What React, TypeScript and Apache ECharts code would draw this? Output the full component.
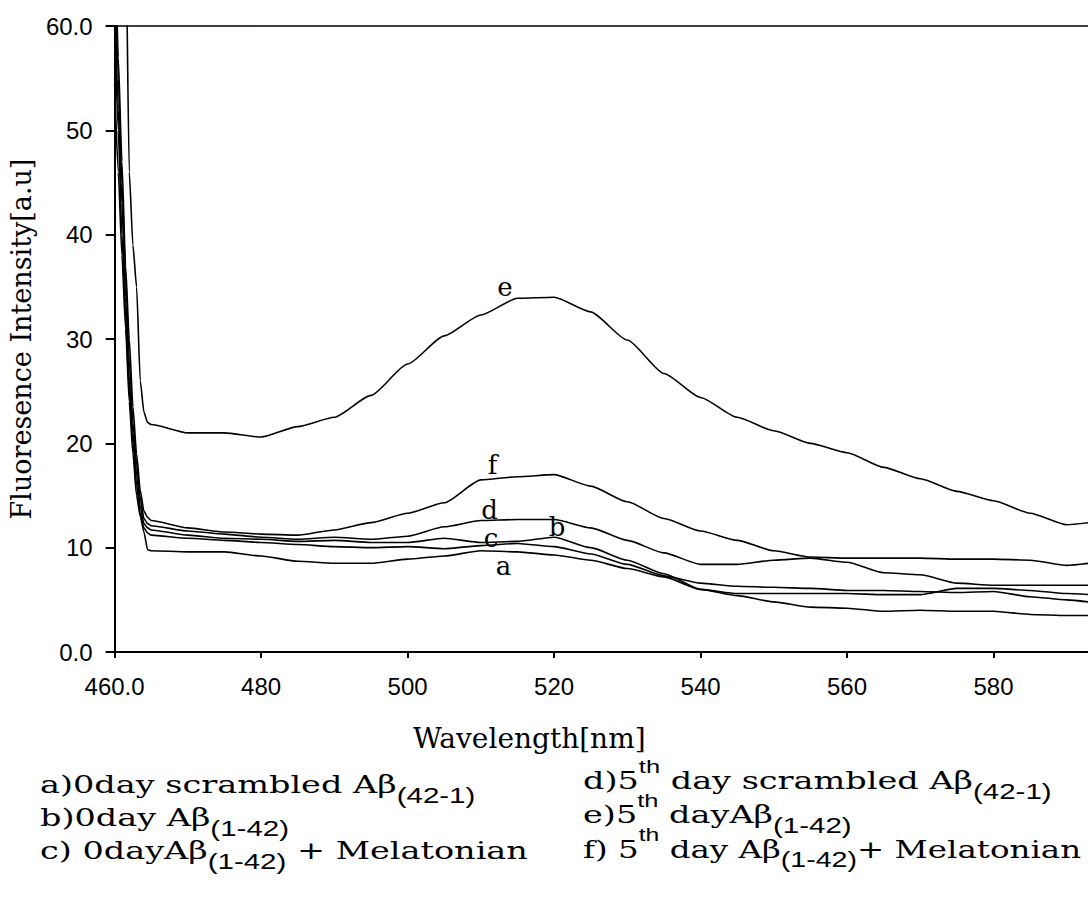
import React, { useEffect, useRef } from "react";
import * as echarts from "echarts";

const wavelength = [460, 460.5, 461, 461.5, 462, 462.5, 463, 463.5, 464, 464.5, 465, 470, 475, 480, 485, 490, 495, 500, 505, 510, 515, 520, 525, 530, 535, 540, 545, 550, 555, 560, 565, 570, 575, 580, 585, 590, 593];

const curveA = [54.5, 46, 38, 31, 24, 19, 15, 13, 11.5, 9.8, 9.7, 9.6, 9.6, 9.2, 8.7, 8.5, 8.5, 8.9, 9.2, 9.7, 9.6, 9.3, 8.8, 8.0, 7.2, 6.0, 5.4, 4.8, 4.3, 4.2, 3.9, 4.0, 3.9, 3.9, 3.6, 3.5, 3.5];
const curveB = [64, 52, 43, 34, 26, 21, 17, 14, 12.3, 11.9, 11.7, 11.2, 10.9, 10.8, 10.6, 10.7, 10.5, 10.5, 10.9, 10.5, 10.6, 11.0, 10.0, 8.8, 7.5, 6.0, 5.6, 5.6, 5.6, 5.6, 5.5, 5.5, 6.1, 6.1, 5.9, 5.6, 5.5];
const curveC = [60, 50, 40, 32, 25, 20, 16, 13.3, 11.9, 11.4, 11.2, 10.9, 10.7, 10.5, 10.3, 10.1, 10.0, 10.1, 9.9, 10.2, 10.4, 10.1, 9.4, 8.4, 7.3, 6.6, 6.3, 6.2, 6.1, 5.9, 5.9, 5.8, 5.7, 5.8, 5.3, 5.0, 4.8];
const curveD = [68, 55, 45, 36, 28, 22, 18, 14.8, 12.8, 12.3, 12.1, 11.6, 11.3, 11.0, 10.8, 11.0, 10.8, 11.1, 12.0, 12.6, 12.7, 12.7, 11.9, 10.7, 9.5, 8.4, 8.4, 8.8, 9.0, 8.6, 7.6, 7.4, 6.6, 6.4, 6.4, 6.4, 6.4];
const curveE = [85, 85, 85, 70, 46, 39, 35, 26, 23, 22, 21.8, 21.0, 21.0, 20.6, 21.6, 22.5, 24.6, 27.6, 30.3, 32.3, 33.9, 34.0, 32.6, 29.9, 26.7, 24.4, 22.5, 21.2, 20.0, 19.1, 17.7, 16.6, 15.4, 14.5, 13.3, 12.2, 12.4];
const curveF = [72, 57, 47, 37, 30, 23.5, 19, 15.5, 13.5, 12.9, 12.6, 11.9, 11.5, 11.3, 11.2, 11.7, 12.4, 13.3, 14.3, 16.5, 16.8, 17.0, 15.9, 14.4, 12.8, 11.6, 10.7, 9.7, 9.1, 9.0, 9.0, 9.0, 8.9, 8.9, 8.8, 8.3, 8.5];

const seriesNames = ["a", "b", "c", "d", "e", "f"];
const seriesValues = [curveA, curveB, curveC, curveD, curveE, curveF];
// curve letter labels, in data coordinates (wavelength, intensity)
const labelX = [513.1, 520.4, 511.4, 511.2, 513.3, 511.6];
const labelY = [8.2, 12.0, 10.9, 13.6, 35.0, 17.9];

const xMin = 460;
const xMax = 592.9;
const xStep = 20;
const yMin = 0;
const yMax = 60;
const yStep = 10;

const xTitle = "Wavelength[nm]";
const yTitle = "Fluoresence Intensity[a.u]";

const legendLeft = [
  "{m|a)0day scrambled Aβ}{s|(42-1)}",
  "{m|b)0day Aβ}{s|(1-42)}",
  "{m|c) 0dayAβ}{s|(1-42)}{m| + Melatonian}",
];
const legendRight = [
  "{m|d)5}{p|th}{m| day scrambled Aβ}{s|(42-1)}",
  "{m|e)5}{p|th}{m| dayAβ}{s|(1-42)}",
  "{m|f) 5}{p|th}{m| day Aβ}{s|(1-42)}{m|+ Melatonian}",
];

const SERIF = "'DejaVu Serif', serif";
const SANS = "'Liberation Sans', Arial, sans-serif";

export default function App() {
  const ref = useRef<HTMLDivElement>(null);

  useEffect(() => {
    if (!ref.current) return;
    const chart = echarts.init(ref.current, undefined, { renderer: "svg" });

    const rich = {
      m: { fontFamily: SERIF, fontSize: 25, lineHeight: 44, color: "#000" },
      s: { fontFamily: SANS, fontSize: 22, height: 24, lineHeight: 44, verticalAlign: "bottom", color: "#000" },
      p: { fontFamily: SANS, fontSize: 19, height: 16, lineHeight: 44, verticalAlign: "top", color: "#000" },
    };

    const legendGraphics: any[] = [];
    legendLeft.forEach((t, i) => {
      legendGraphics.push({
        type: "text",
        x: 40,
        y: 763 + i * 33,
        scaleX: 1.34,
        silent: true,
        style: { text: t, rich, align: "left", verticalAlign: "top", fill: "#000" },
      });
    });
    legendRight.forEach((t, i) => {
      legendGraphics.push({
        type: "text",
        x: 583,
        y: 759 + i * 34,
        scaleX: i === legendRight.length - 1 ? 1.3 : 1.34,
        silent: true,
        style: { text: t, rich, align: "left", verticalAlign: "top", fill: "#000" },
      });
    });

    const series = seriesNames.map((name, i) => ({
      name,
      type: "line",
      data: wavelength.map((x, j) => [x, seriesValues[i][j]]),
      showSymbol: false,
      symbol: "none",
      smooth: 0.2,
      smoothMonotone: "x",
      clip: true,
      lineStyle: { color: "#000", width: 1.6 },
      markPoint: {
        symbol: "circle",
        symbolSize: 1,
        itemStyle: { color: "rgba(0,0,0,0)" },
        label: {
          show: true,
          position: "inside",
          formatter: name,
          fontFamily: SERIF,
          fontSize: 26,
          color: "#000",
        },
        data: [{ coord: [labelX[i], labelY[i]], value: name }],
      },
    }));

    chart.setOption({
      animation: false,
      backgroundColor: "#fff",
      grid: { left: 112, top: 26, right: 0, bottom: 257, containLabel: false },
      xAxis: [
        {
          type: "value",
          min: xMin,
          max: xMax,
          interval: xStep,
          name: xTitle,
          nameLocation: "middle",
          nameGap: 72,
          nameTextStyle: {
            fontFamily: SERIF,
            fontSize: 28,
            color: "#000",
            padding: [0, 144, 0, 0],
          },
          axisLine: { show: true, lineStyle: { color: "#000", width: 2 } },
          axisTick: { show: true, length: 6, lineStyle: { color: "#000", width: 2 } },
          splitLine: { show: false },
          axisLabel: {
            margin: 22,
            fontFamily: SANS,
            fontSize: 24,
            color: "#000",
            showMaxLabel: false,
            formatter: (v: number) =>
              v === xMin ? xMin.toFixed(1) : v % xStep === 0 ? String(v) : "",
          },
        },
        {
          type: "value",
          position: "top",
          min: xMin,
          max: xMax,
          axisLine: { show: true, onZero: false, lineStyle: { color: "#000", width: 1.5 } },
          axisTick: { show: false },
          axisLabel: { show: false },
          splitLine: { show: false },
        },
      ],
      yAxis: {
        type: "value",
        min: yMin,
        max: yMax,
        interval: yStep,
        name: yTitle,
        nameLocation: "middle",
        nameRotate: 90,
        nameGap: 66,
        nameTextStyle: { fontFamily: SERIF, fontSize: 27, color: "#000" },
        axisLine: { show: true, lineStyle: { color: "#000", width: 2 } },
        axisTick: { show: true, length: 9, lineStyle: { color: "#000", width: 2 } },
        splitLine: { show: false },
        axisLabel: {
          margin: 22,
          fontFamily: SANS,
          fontSize: 24,
          color: "#000",
          formatter: (v: number) =>
            v === yMin || v === yMax ? v.toFixed(1) : String(v),
        },
      },
      graphic: legendGraphics,
      series,
    });

    return () => chart.dispose();
  }, []);

  return (
    <div
      ref={ref}
      style={{ position: "fixed", left: 0, top: 0, width: 1088, height: 909, background: "#fff" }}
    />
  );
}
